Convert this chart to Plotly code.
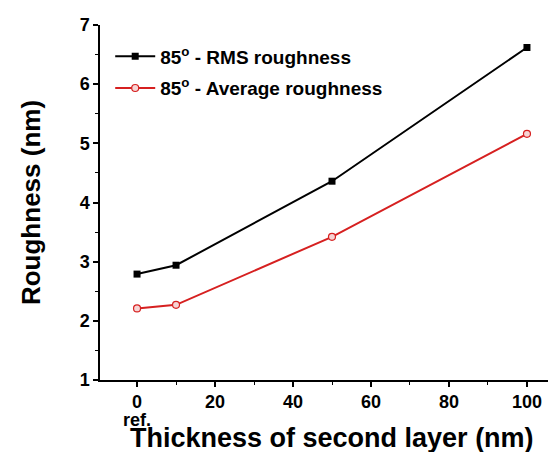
import plotly.graph_objects as go

thickness = [0, 10, 50, 100]
rms_roughness = [2.79, 2.94, 4.36, 6.62]
avg_roughness = [2.21, 2.27, 3.42, 5.16]
x_tickvals = [0, 20, 40, 60, 80, 100]
x_ticktext = ["0", "20", "40", "60", "80", "100"]
y_tickvals = [1, 2, 3, 4, 5, 6, 7]
y_ticktext = ["1", "2", "3", "4", "5", "6", "7"]

FONT = "Liberation Sans, Arial, sans-serif"

fig = go.Figure()
fig.add_trace(go.Scatter(
    x=thickness, y=rms_roughness, mode="lines+markers",
    name="<b>85<sup>o</sup> - RMS roughness</b>", legendgroup="rms",
    line=dict(color="black", width=2),
    marker=dict(symbol="square", size=7, color="black"),
))
fig.add_trace(go.Scatter(
    x=thickness, y=avg_roughness, mode="lines+markers",
    name="<b>85<sup>o</sup> - Average roughness</b>", legendgroup="avg",
    line=dict(color="#d62020", width=2),
    marker=dict(symbol="circle", size=7, color="#f6d4d4",
                line=dict(color="#d62020", width=1.2)),
))

axis_common = dict(
    showline=True, linecolor="black", linewidth=1.5,
    ticks="outside", ticklen=5, tickwidth=1.5, tickcolor="black",
    showgrid=False, zeroline=False, mirror=False,
    tickfont=dict(family=FONT, size=18, color="black"),
)

fig.update_xaxes(
    range=[-9.5, 109.5], tickvals=x_tickvals,
    ticktext=["<b>%s</b>" % t for t in x_ticktext],
    minor=dict(ticks="outside", ticklen=3, tickwidth=1.2, tickcolor="black", dtick=10, tick0=0),
    **axis_common,
)
fig.update_yaxes(
    range=[1, 7], tickvals=y_tickvals,
    ticktext=["<b>%s</b>" % t for t in y_ticktext],
    minor=dict(ticks="outside", ticklen=3, tickwidth=1.2, tickcolor="black", dtick=0.5, tick0=0),
    title=dict(text="<b>Roughness (nm)</b>",
               font=dict(family=FONT, size=26, color="black"), standoff=32),
    **axis_common,
)

fig.add_annotation(
    x=0, xref="x", y=-0.113, yref="paper", yanchor="middle", xanchor="center",
    text="<b>ref.</b>", showarrow=False,
    font=dict(family=FONT, size=18, color="black"),
)
fig.add_annotation(
    x=0.5, xref="paper", y=-0.163, yref="paper", yanchor="middle", xanchor="center",
    text="<b>Thickness of second layer (nm)</b>", showarrow=False,
    font=dict(family=FONT, size=27, color="black"),
)

fig.update_layout(
    width=556, height=452,
    margin=dict(l=92, r=0, t=17, b=80),
    paper_bgcolor="white", plot_bgcolor="white",
    showlegend=True,
    legend=dict(x=0.022, y=0.965, xanchor="left", yanchor="top",
                bgcolor="rgba(0,0,0,0)", borderwidth=0,
                font=dict(family=FONT, size=19, color="black"),
                itemwidth=40, tracegroupgap=4),
)

fig.write_html("out.html")
